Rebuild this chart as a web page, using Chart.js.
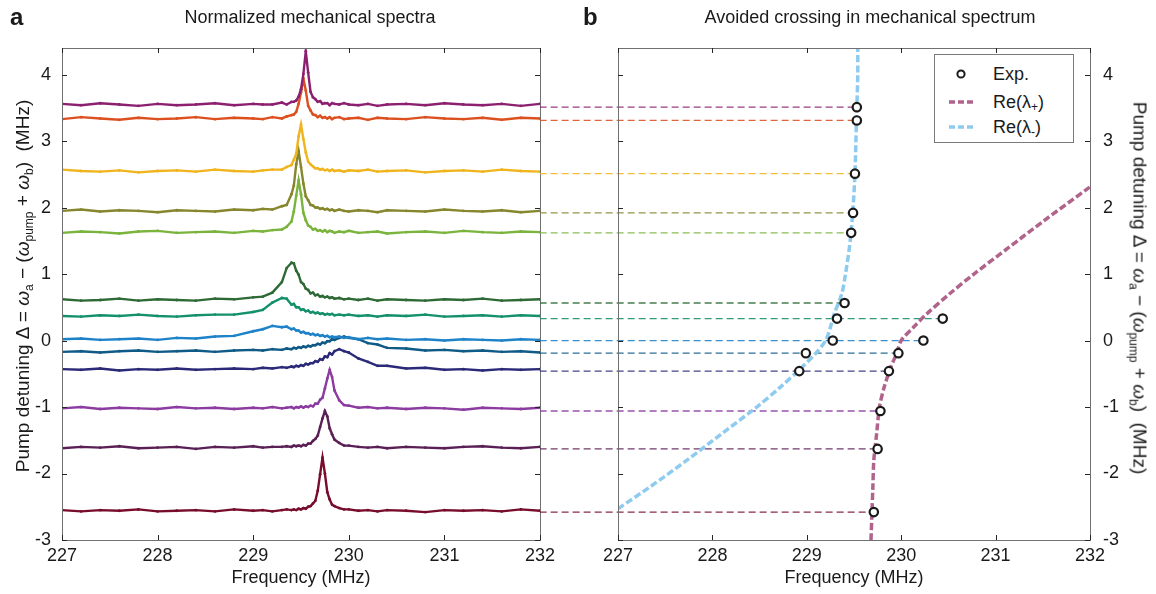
<!DOCTYPE html>
<html><head><meta charset="utf-8">
<script src="https://cdn.jsdelivr.net/npm/chart.js@4.4.1/dist/chart.umd.min.js"></script>
<style>
html,body{margin:0;padding:0;background:#fff;}
#wrap{position:relative;width:1156px;height:594px;overflow:hidden;font-family:"Liberation Sans",Arial,Helvetica,sans-serif;color:#1a1a1a;}
canvas{position:absolute;top:0;}
.lbl{position:absolute;white-space:nowrap;line-height:1;}
.panel{font-weight:bold;font-size:24px;}
.ttl{font-size:18px;transform:translate(-50%,-50%);}
.ytitle{font-size:19px;}
.ytitle sub{font-size:12px;vertical-align:-4px;line-height:0;}
#legend{position:absolute;left:934px;top:54px;width:138px;height:87px;border:1px solid #7a7a7a;background:#fff;z-index:5;}
#legend .row{position:absolute;left:0;width:138px;height:20px;font-size:18px;}
#legend .txt{position:absolute;left:58px;top:0;line-height:20px;}
#legend sub{font-size:12px;vertical-align:-3px;line-height:0;}
</style></head>
<body><div id="wrap">
<canvas id="cA" width="580" height="594" style="left:0"></canvas>
<canvas id="cB" width="616" height="594" style="left:540px"></canvas>
<div class="lbl panel" style="left:10px;top:5px;">a</div>
<div class="lbl panel" style="left:583px;top:5px;">b</div>
<div class="lbl ttl" style="left:310px;top:17px;">Normalized mechanical spectra</div>
<div class="lbl ttl" style="left:870px;top:17px;">Avoided crossing in mechanical spectrum</div>
<div class="lbl ytitle" style="left:22px;top:286px;transform:translate(-50%,-50%) rotate(-90deg);">Pump detuning &Delta; = <i>&omega;</i><sub>a</sub> &minus; (<i>&omega;</i><sub>pump</sub> + <i>&omega;</i><sub>b</sub>)&nbsp; (MHz)</div>
<div class="lbl ytitle" style="left:1140px;top:288px;transform:translate(-50%,-50%) rotate(90deg);">Pump detuning &Delta; = <i>&omega;</i><sub>a</sub> &minus; (<i>&omega;</i><sub>pump</sub> + <i>&omega;</i><sub>b</sub>)&nbsp; (MHz)</div>
<div id="legend">
  <div class="row" style="top:9px;"><svg width="58" height="20" style="position:absolute;left:0;top:0"><circle cx="26" cy="10" r="3.6" fill="#fff" stroke="#1a1a1a" stroke-width="2"/></svg><span class="txt">Exp.</span></div>
  <div class="row" style="top:37px;"><svg width="58" height="20" style="position:absolute;left:0;top:0"><line x1="14" y1="10" x2="38" y2="10" stroke="#b0648c" stroke-width="3.5" stroke-dasharray="6,3"/></svg><span class="txt">Re(&lambda;<sub>+</sub>)</span></div>
  <div class="row" style="top:62px;"><svg width="58" height="20" style="position:absolute;left:0;top:0"><line x1="14" y1="10" x2="38" y2="10" stroke="#8ecbef" stroke-width="3.5" stroke-dasharray="6,3"/></svg><span class="txt">Re(&lambda;<sub>-</sub>)</span></div>
</div>
</div>
<script>
const FONT = "'Liberation Sans', Arial, Helvetica, sans-serif";

// ---------- panel a: normalized spectra ----------
const frequencyGrid = [227.0,227.2,227.4,227.6,227.8,228.0,228.2,228.4,228.6,228.8,229.0,
  229.1,229.2,229.3,229.35,
  229.4,229.425,229.45,229.475,229.5,229.525,229.55,229.575,229.6,229.625,229.65,229.675,229.7,229.725,229.75,229.775,229.8,229.825,229.85,
  229.9,229.95,230.0,230.1,230.2,230.3,230.4,
  230.6,230.8,231.0,231.2,231.4,231.6,231.8,232.0];

const traceDetuning = [3.55, 3.34, 2.55, 1.95, 1.63, 0.61, 0.37, 0.01, -0.17, -0.44, -1.02, -1.61, -2.56];
const traceColors = ['#8c2070','#dc5020','#f0b41e','#86862e','#7ab43c','#2e6a36','#14906a','#1e82c8','#0f5a86','#2a2a78','#8c3ca0','#5a1f55','#780c2c'];

const spectrum1 = [0.01,-0.01,0.02,0.00,-0.02,0.01,-0.01,0.00,0.02,-0.01,0.01, 0.00,0.00,0.03,0.00, 0.04,0.04,0.06,0.12,0.23,0.46,0.80,0.48,0.19,0.11,0.08,0.04,0.05,0.01,0.02,0.02,-0.01,0.02,0.01, 0.00,0.02,0.00,-0.01,0.01,-0.02,0.00, 0.01,-0.01,0.02,0.00,-0.01,0.01,-0.02,0.01];
const spectrum2 = [-0.01,0.02,0.00,-0.02,0.01,-0.01,0.00,0.02,-0.01,0.01,0.00, -0.01,0.02,0.00,0.03, 0.05,0.06,0.10,0.22,0.39,0.60,0.42,0.19,0.12,0.06,0.05,0.02,0.04,0.01,0.02,0.00,0.02,-0.01,0.01, 0.02,-0.01,0.00,0.01,-0.02,0.01,0.00, -0.01,0.02,0.00,-0.01,0.01,-0.02,0.01,0.00];
const spectrum3 = [0.02,0.00,-0.01,0.01,-0.02,0.00,0.01,-0.01,0.02,0.00,-0.01, 0.01,0.02,0.02,0.06, 0.09,0.17,0.26,0.52,0.70,0.48,0.28,0.14,0.10,0.07,0.04,0.04,0.02,0.03,0.01,0.02,0.00,0.02,0.00, 0.01,-0.01,0.01,0.00,0.02,-0.01,0.00, 0.01,-0.02,0.00,0.01,-0.01,0.02,0.00,-0.01];
const spectrum4 = [0.00,0.02,-0.01,0.01,0.00,-0.02,0.01,0.00,-0.01,0.02,0.01, 0.03,0.02,0.07,0.09, 0.25,0.38,0.70,0.90,0.66,0.41,0.22,0.16,0.09,0.08,0.05,0.05,0.03,0.04,0.02,0.03,0.01,0.02,0.00, 0.02,0.00,-0.01,0.01,0.00,-0.02,0.01, 0.00,-0.01,0.02,0.00,-0.01,0.01,-0.02,0.00];
const spectrum5 = [-0.01,0.01,0.00,-0.02,0.01,0.02,-0.01,0.00,0.01,-0.01,0.02, 0.01,0.03,0.04,0.08, 0.16,0.31,0.55,0.78,0.57,0.29,0.18,0.10,0.08,0.04,0.05,0.02,0.03,0.01,0.03,0.00,0.02,0.01,-0.01, 0.01,0.00,0.02,-0.01,0.00,0.01,-0.02, 0.00,0.01,-0.01,0.02,0.00,-0.01,0.01,0.00];
const spectrum6 = [0.01,-0.01,0.00,0.02,-0.01,0.01,0.00,-0.01,0.02,0.01,0.04, 0.05,0.11,0.27,0.48, 0.56,0.55,0.44,0.38,0.27,0.24,0.17,0.15,0.10,0.11,0.07,0.08,0.05,0.06,0.04,0.05,0.03,0.04,0.02, 0.03,0.01,0.02,0.00,0.02,-0.01,0.01, 0.00,-0.01,0.01,0.00,0.02,-0.01,0.00,0.01];
const spectrum7 = [0.00,-0.01,0.01,0.00,0.02,0.00,-0.01,0.01,0.02,0.02,0.06, 0.09,0.20,0.27,0.26, 0.17,0.18,0.13,0.13,0.09,0.10,0.07,0.08,0.05,0.06,0.04,0.05,0.03,0.04,0.02,0.03,0.02,0.03,0.01, 0.02,0.01,0.02,0.00,0.01,-0.01,0.01, 0.00,0.02,-0.01,0.00,0.01,-0.01,0.01,0.00];
const spectrum8 = [0.01,0.02,0.00,0.01,0.02,0.00,0.03,0.02,0.05,0.06,0.13, 0.16,0.21,0.19,0.20, 0.16,0.17,0.14,0.14,0.11,0.12,0.10,0.10,0.08,0.09,0.07,0.08,0.06,0.07,0.05,0.06,0.04,0.05,0.04, 0.05,0.03,0.04,0.01,0.03,0.01,0.02, 0.00,0.01,-0.01,0.01,0.00,-0.01,0.01,0.00];
const spectrum9 = [0.00,0.01,-0.01,0.01,0.02,0.00,0.01,0.02,0.00,0.02,0.03, 0.02,0.04,0.03,0.05, 0.04,0.06,0.05,0.07,0.06,0.08,0.07,0.09,0.08,0.10,0.10,0.12,0.11,0.14,0.13,0.16,0.16,0.19,0.18, 0.21,0.23,0.21,0.19,0.13,0.11,0.06, 0.05,0.02,0.03,0.01,0.02,0.00,0.01,-0.01];
const spectrum10 = [0.01,0.00,0.02,-0.01,0.01,0.00,0.02,0.00,0.01,0.02,0.01, 0.03,0.02,0.04,0.03, 0.05,0.04,0.06,0.05,0.07,0.06,0.09,0.08,0.10,0.10,0.13,0.12,0.16,0.15,0.20,0.19,0.25,0.23,0.28, 0.31,0.28,0.26,0.17,0.12,0.06,0.06, 0.02,0.03,0.00,0.01,-0.01,0.01,0.00,0.01];
const spectrum11 = [0.00,0.02,-0.01,0.01,0.00,-0.01,0.02,0.00,0.01,-0.01,0.01, 0.00,0.02,0.00,0.01, 0.02,0.00,0.02,0.01,0.03,0.01,0.03,0.02,0.04,0.03,0.07,0.07,0.13,0.16,0.30,0.45,0.58,0.47,0.27, 0.12,0.05,0.04,0.01,0.02,0.00,0.01, -0.01,0.01,0.00,-0.02,0.01,0.00,-0.01,0.01];
const spectrum12 = [-0.01,0.01,0.00,0.02,-0.01,0.00,0.01,-0.02,0.01,0.00,0.02, 0.00,0.01,0.01,0.02, 0.01,0.03,0.02,0.03,0.02,0.04,0.03,0.06,0.06,0.10,0.13,0.18,0.31,0.44,0.55,0.47,0.29,0.20,0.12, 0.07,0.03,0.03,0.01,0.00,0.01,-0.01, 0.01,0.00,-0.01,0.01,0.02,0.00,-0.01,0.01];
const spectrum13 = [0.01,-0.01,0.01,0.00,0.02,-0.01,0.00,0.01,-0.01,0.02,0.00, 0.01,-0.01,0.01,0.02, 0.01,0.02,0.01,0.03,0.02,0.04,0.03,0.06,0.07,0.11,0.15,0.30,0.55,0.80,0.56,0.28,0.17,0.09,0.07, 0.04,0.02,0.02,0.00,0.01,-0.01,0.01, 0.00,-0.02,0.01,0.00,0.01,-0.01,0.02,0.00];
const spectra = [spectrum1,spectrum2,spectrum3,spectrum4,spectrum5,spectrum6,spectrum7,spectrum8,spectrum9,spectrum10,spectrum11,spectrum12,spectrum13];

const xTicks = [227,228,229,230,231,232];
const yTicks = [-3,-2,-1,0,1,2,3,4];

// ---------- panel b: avoided crossing ----------
const expDetuning = [3.51, 3.31, 2.51, 1.92, 1.62, 0.565, 0.33, 0.0, -0.19, -0.46, -1.06, -1.63, -2.58];
const expLowerFreq = [229.53, 229.53, 229.51, 229.49, 229.47, 229.40, 229.32, 229.275, 228.99, 228.92, null, null, null];
const expUpperFreq = [null, null, null, null, null, null, 230.44, 230.235, 229.97, 229.87, 229.78, 229.75, 229.71];
const connectorFrom = 226.17;

const lowerBranchDetuning = [-2.53, -2.2, -1.8, -1.4, -1.0, -0.7, -0.4, -0.2, 0, 0.2, 0.4, 0.7, 1.0, 1.5, 2.0, 2.5, 3.0, 3.5, 4.0, 4.4];
const lowerBranchFreq = [227.00, 227.34, 227.73, 228.10, 228.47, 228.72, 228.95, 229.09, 229.20, 229.25, 229.29, 229.37, 229.41, 229.46, 229.49, 229.51, 229.52, 229.53, 229.54, 229.54];
const upperBranchDetuning = [-3.0, -2.6, -2.2, -1.8, -1.4, -1.0, -0.7, -0.4, -0.2, 0, 0.2, 0.4, 0.7, 1.0, 1.4, 1.8, 2.3, 2.35];
const upperBranchFreq = [229.68, 229.69, 229.70, 229.71, 229.74, 229.77, 229.82, 229.89, 229.95, 230.00, 230.13, 230.27, 230.51, 230.77, 231.14, 231.51, 231.99, 232.04];

// ---------- helpers ----------
const boxPlugin = {
  id: 'box',
  afterDatasetsDraw(chart) {
    const {ctx, chartArea: a, scales} = chart;
    ctx.save();
    ctx.lineWidth = 1;
    ctx.strokeStyle = '#707070';
    ctx.strokeRect(Math.round(a.left) + 0.5, Math.round(a.top) + 0.5, Math.round(a.right - a.left), Math.round(a.bottom - a.top));
    ctx.strokeStyle = '#262626';
    const L = 5;
    ctx.beginPath();
    scales.x.ticks.forEach(t => {
      const px = Math.round(scales.x.getPixelForValue(t.value)) + 0.5;
      ctx.moveTo(px, a.bottom); ctx.lineTo(px, a.bottom - L);
      ctx.moveTo(px, a.top); ctx.lineTo(px, a.top + L);
    });
    scales.y.ticks.forEach(t => {
      const py = Math.round(scales.y.getPixelForValue(t.value)) + 0.5;
      ctx.moveTo(a.left, py); ctx.lineTo(a.left + L, py);
      ctx.moveTo(a.right, py); ctx.lineTo(a.right - L, py);
    });
    ctx.stroke();
    ctx.restore();
  }
};

function xScale() {
  return {
    type: 'linear', min: 227, max: 232,
    afterBuildTicks: s => { s.ticks = xTicks.map(v => ({value: v})); },
    afterFit: s => { s.height = 54; },
    grid: {display: false, drawTicks: false}, border: {display: false},
    ticks: {padding: 5, color: '#1a1a1a', font: {family: FONT, size: 18}, maxRotation: 0, autoSkip: false},
    title: {display: true, text: 'Frequency (MHz)', color: '#1a1a1a', font: {family: FONT, size: 18}, padding: {top: 0, bottom: 5}}
  };
}
function yScale(position, width, pad) {
  return {
    type: 'linear', position: position, min: -3, max: 4.4,
    afterBuildTicks: s => { s.ticks = yTicks.map(v => ({value: v})); },
    afterFit: s => { s.width = width; },
    grid: {display: false, drawTicks: false}, border: {display: false},
    ticks: {padding: pad, color: '#1a1a1a', font: {family: FONT, size: 18}, autoSkip: false}
  };
}

// ---------- chart a ----------
const dsA = spectra.map((vals, i) => ({
  data: frequencyGrid.map((f, k) => ({x: f, y: traceDetuning[i] + vals[k]})),
  showLine: true,
  borderColor: traceColors[i],
  backgroundColor: traceColors[i],
  borderWidth: 2.4,
  pointRadius: 1.4,
  pointBorderWidth: 0,
  tension: 0
}));

new Chart(document.getElementById('cA'), {
  type: 'scatter',
  data: {datasets: dsA},
  options: {
    responsive: false, animation: false, events: [],
    layout: {padding: {left: 0, right: 40, top: 48, bottom: 0}},
    plugins: {legend: {display: false}, tooltip: {enabled: false}},
    scales: {x: xScale(), y: yScale('left', 62, 11)}
  },
  plugins: [boxPlugin]
});

// ---------- chart b ----------
const dsB = [];
const expPoints = [];
expDetuning.forEach((d, i) => {
  if (expLowerFreq[i] !== null) expPoints.push({x: expLowerFreq[i], y: d});
  if (expUpperFreq[i] !== null) expPoints.push({x: expUpperFreq[i], y: d});
});
dsB.push({
  data: expPoints, order: 0, showLine: false,
  pointRadius: 4.2, pointBorderWidth: 2.2, pointBorderColor: '#1a1a1a', pointBackgroundColor: '#ffffff', clip: false
});
dsB.push({
  data: upperBranchDetuning.map((d, i) => ({x: upperBranchFreq[i], y: d})),
  order: 1, showLine: true, borderColor: '#b0648c', borderWidth: 3.5, borderDash: [7, 3],
  pointRadius: 0, tension: 0.3, clip: 0
});
dsB.push({
  data: lowerBranchDetuning.map((d, i) => ({x: lowerBranchFreq[i], y: d})),
  order: 1, showLine: true, borderColor: '#8ecbef', borderWidth: 3.5, borderDash: [7, 3],
  pointRadius: 0, tension: 0.3, clip: 0
});
expDetuning.forEach((d, i) => {
  const end = Math.max(expLowerFreq[i] ?? -Infinity, expUpperFreq[i] ?? -Infinity);
  dsB.push({
    data: [{x: connectorFrom, y: d}, {x: end, y: d}],
    order: 2, showLine: true, borderColor: traceColors[i] + 'e0', borderWidth: 1.3, borderDash: [7, 4],
    pointRadius: 0, clip: false
  });
});

new Chart(document.getElementById('cB'), {
  type: 'scatter',
  data: {datasets: dsB},
  options: {
    responsive: false, animation: false, events: [],
    layout: {padding: {left: 78, right: 0, top: 48, bottom: 0}},
    plugins: {legend: {display: false}, tooltip: {enabled: false}},
    scales: {x: xScale(), y: yScale('right', 66, 13)}
  },
  plugins: [boxPlugin]
});
</script>
</body></html>
